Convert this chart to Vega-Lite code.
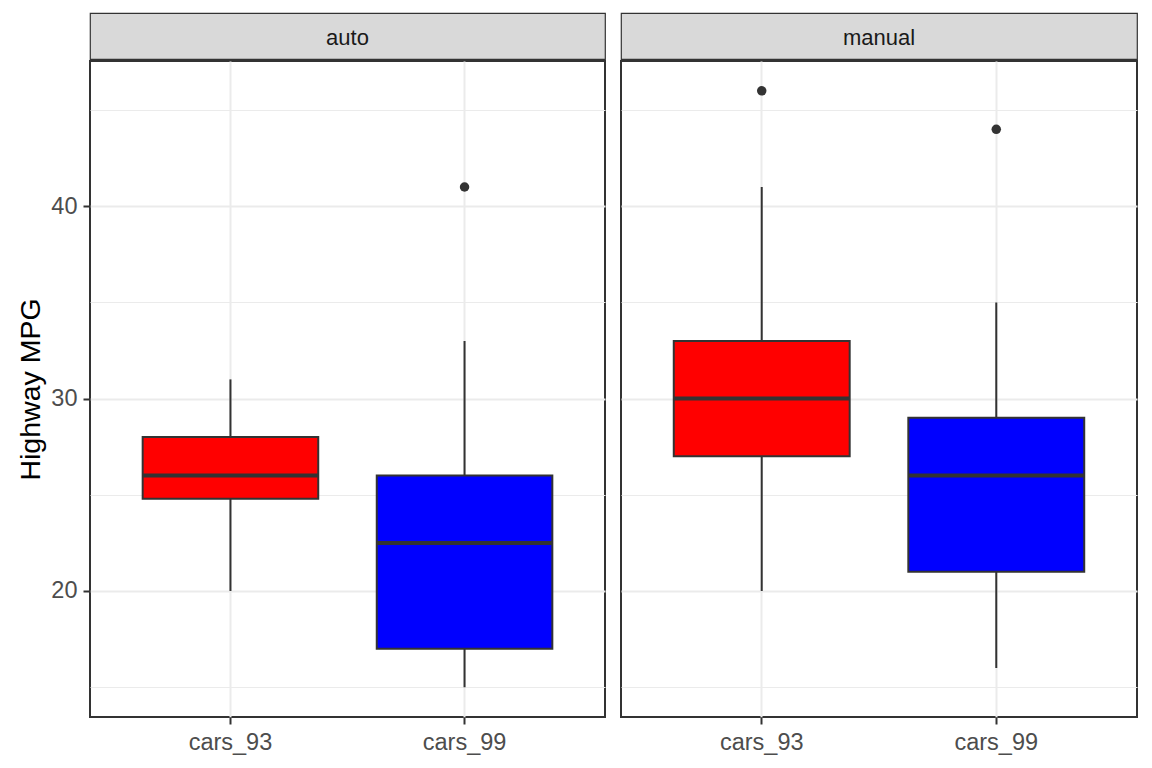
{
  "$schema": "https://vega.github.io/schema/vega-lite/v6.json",
  "padding": {"left": 15, "top": 12, "right": 14, "bottom": 5},
  "background": "white",
  "datasets": {
    "boxes": [
      {"transmission": "auto", "dataset": "cars_93", "lower": 20, "q1": 24.8, "median": 26, "q3": 28, "upper": 31},
      {"transmission": "auto", "dataset": "cars_99", "lower": 15, "q1": 17, "median": 22.5, "q3": 26, "upper": 33},
      {"transmission": "manual", "dataset": "cars_93", "lower": 20, "q1": 27, "median": 30, "q3": 33, "upper": 41},
      {"transmission": "manual", "dataset": "cars_99", "lower": 16, "q1": 21, "median": 26, "q3": 29, "upper": 35}
    ],
    "outliers": [
      {"transmission": "auto", "dataset": "cars_99", "value": 41},
      {"transmission": "manual", "dataset": "cars_93", "value": 46},
      {"transmission": "manual", "dataset": "cars_99", "value": 44}
    ]
  },
  "config": {
    "font": "Liberation Sans",
    "view": {"stroke": "#333333", "strokeWidth": 2},
    "axis": {
      "labelFont": "Liberation Sans", "labelFontSize": 23.5, "labelColor": "#4D4D4D",
      "tickColor": "#333333", "tickWidth": 2, "tickSize": 7, "labelPadding": 6,
      "domain": false, "gridColor": "#EBEBEB",
      "titleFont": "Liberation Sans", "titleFontWeight": "normal", "titleColor": "#000000", "titleFontSize": 28.5
    }
  },
  "spacing": 14,
  "hconcat": [
    {
      "spacing": 0,
      "vconcat": [
        {
          "width": 515, "height": 46,
          "data": {"values": [{"transmission": "auto"}]},
          "view": {"fill": "#D9D9D9", "stroke": "#333333", "strokeWidth": 1.2},
          "mark": {"type": "text", "fontSize": 22, "dy": 2, "color": "#1A1A1A", "font": "Liberation Sans"},
          "encoding": {"text": {"field": "transmission", "type": "nominal"}}
        },
        {
          "width": 515, "height": 656,
          "data": {"name": "boxes"},
          "transform": [{"filter": "datum.transmission === 'auto'"}],
          "encoding": {
            "x": {"field": "dataset", "type": "nominal",
              "scale": {"domain": ["cars_93", "cars_99"], "paddingInner": 0.25, "paddingOuter": 0.225},
              "axis": {"title": null, "labelAngle": 0, "grid": true, "gridWidth": 2, "bandPosition": 0.5}}
          },
          "layer": [
            {
              "mark": {"type": "rule", "color": "#333333", "strokeWidth": 2},
              "encoding": {
                "y": {"field": "lower", "type": "quantitative",
                  "scale": {"domain": [13.45, 47.55], "nice": false, "zero": false},
                  "axis": {"title": "Highway MPG", "titlePadding": 5, "values": [15, 20, 25, 30, 35, 40, 45],
                    "labelExpr": "datum.value % 10 === 0 ? datum.label : ''",
                    "tickOpacity": {"condition": {"test": "datum.value % 10 === 0", "value": 1}, "value": 0},
                    "gridWidth": {"condition": {"test": "datum.value % 10 === 0", "value": 2}, "value": 1}}},
                "y2": {"field": "upper"}
              }
            },
            {
              "mark": {"type": "bar", "stroke": "#333333", "strokeWidth": 2},
              "encoding": {
                "y": {"field": "q1", "type": "quantitative"},
                "y2": {"field": "q3"},
                "color": {"field": "dataset", "type": "nominal", "scale": {"domain": ["cars_93", "cars_99"], "range": ["#FF0000", "#0000FF"]}, "legend": null}
              }
            },
            {
              "mark": {"type": "tick", "color": "#333333", "thickness": 4, "size": 175.5, "opacity": 1},
              "encoding": {"y": {"field": "median", "type": "quantitative"}}
            },
            {
              "data": {"name": "outliers"},
              "transform": [{"filter": "datum.transmission === 'auto'"}],
              "mark": {"type": "point", "filled": true, "color": "#333333", "size": 90, "opacity": 1},
              "encoding": {"y": {"field": "value", "type": "quantitative"}}
            }
          ]
        }
      ]
    },
    {
      "spacing": 0,
      "vconcat": [
        {
          "width": 516, "height": 46,
          "data": {"values": [{"transmission": "manual"}]},
          "view": {"fill": "#D9D9D9", "stroke": "#333333", "strokeWidth": 1.2},
          "mark": {"type": "text", "fontSize": 22, "dy": 2, "color": "#1A1A1A", "font": "Liberation Sans"},
          "encoding": {"text": {"field": "transmission", "type": "nominal"}}
        },
        {
          "width": 516, "height": 656,
          "data": {"name": "boxes"},
          "transform": [{"filter": "datum.transmission === 'manual'"}],
          "encoding": {
            "x": {"field": "dataset", "type": "nominal",
              "scale": {"domain": ["cars_93", "cars_99"], "paddingInner": 0.25, "paddingOuter": 0.225},
              "axis": {"title": null, "labelAngle": 0, "grid": true, "gridWidth": 2, "bandPosition": 0.5}}
          },
          "layer": [
            {
              "mark": {"type": "rule", "color": "#333333", "strokeWidth": 2},
              "encoding": {
                "y": {"field": "lower", "type": "quantitative",
                  "scale": {"domain": [13.45, 47.55], "nice": false, "zero": false},
                  "axis": {"title": null, "labels": false, "ticks": false, "values": [15, 20, 25, 30, 35, 40, 45],
                    "gridWidth": {"condition": {"test": "datum.value % 10 === 0", "value": 2}, "value": 1}}},
                "y2": {"field": "upper"}
              }
            },
            {
              "mark": {"type": "bar", "stroke": "#333333", "strokeWidth": 2},
              "encoding": {
                "y": {"field": "q1", "type": "quantitative"},
                "y2": {"field": "q3"},
                "color": {"field": "dataset", "type": "nominal", "scale": {"domain": ["cars_93", "cars_99"], "range": ["#FF0000", "#0000FF"]}, "legend": null}
              }
            },
            {
              "mark": {"type": "tick", "color": "#333333", "thickness": 4, "size": 176, "opacity": 1},
              "encoding": {"y": {"field": "median", "type": "quantitative"}}
            },
            {
              "data": {"name": "outliers"},
              "transform": [{"filter": "datum.transmission === 'manual'"}],
              "mark": {"type": "point", "filled": true, "color": "#333333", "size": 90, "opacity": 1},
              "encoding": {"y": {"field": "value", "type": "quantitative"}}
            }
          ]
        }
      ]
    }
  ]
}
